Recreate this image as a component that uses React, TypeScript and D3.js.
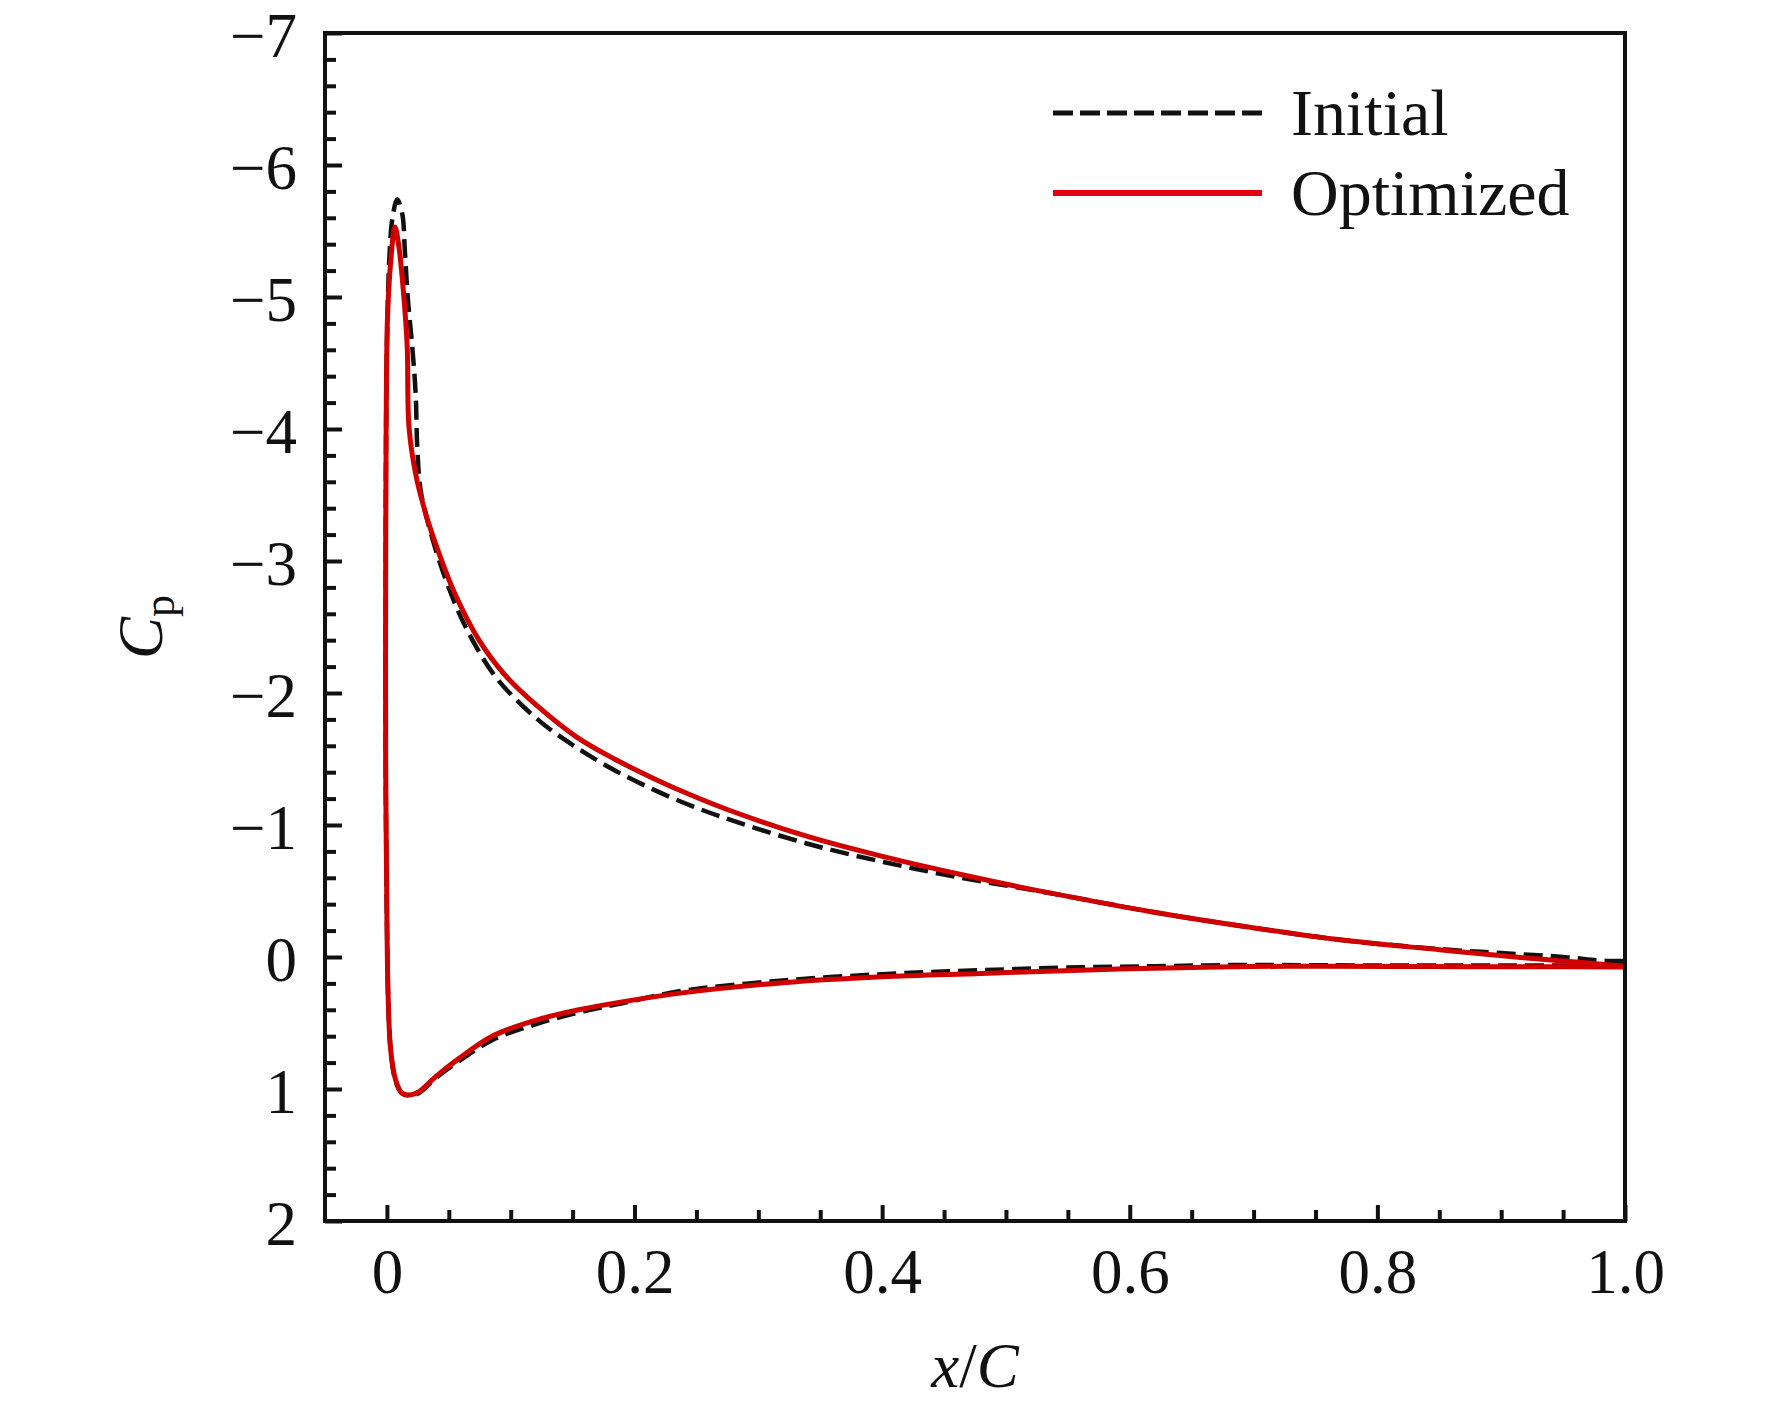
import { useEffect, useRef } from "react";
import * as d3 from "d3";

// ---- data (x/C, Cp) ----
// each surface listed in drawing order: lower TE -> LE, nose, upper LE -> TE
const initialLower: [number, number][] = [
  [1.0, 0.065], [0.9, 0.065], [0.76, 0.063], [0.697, 0.06], [0.62, 0.07], [0.56, 0.078],
  [0.48, 0.1], [0.4, 0.13], [0.317, 0.18], [0.236, 0.26], [0.19, 0.35], [0.155, 0.42],
  [0.12, 0.51], [0.085, 0.63], [0.058, 0.79], [0.039, 0.92], [0.026, 1.03], [0.018, 1.05],
  [0.012, 1.03], [0.007, 0.94], [0.003, 0.7], [0.001, 0.3],
];
const initialNose: [number, number][] = [
  [0.0, -0.3], [-0.001, -1.5], [-0.001, -3.0], [-0.0005, -4.2], [0.0005, -4.85],
  [0.002, -5.3], [0.0045, -5.6],
];
const initialUpper: [number, number][] = [
  [0.0083, -5.74], [0.0124, -5.63], [0.0145, -5.35], [0.0168, -5.0], [0.0205, -4.62],
  [0.0232, -4.27], [0.0245, -3.87], [0.0272, -3.54], [0.034, -3.26], [0.0475, -2.86],
  [0.0636, -2.5], [0.088, -2.12], [0.1217, -1.8], [0.1527, -1.59], [0.1838, -1.415],
  [0.2149, -1.27], [0.246, -1.145], [0.277, -1.04], [0.339, -0.86], [0.401, -0.72],
  [0.4636, -0.6], [0.526, -0.5], [0.578, -0.41], [0.616, -0.345], [0.697, -0.225],
  [0.77, -0.13], [0.85, -0.06], [0.9, -0.03], [0.95, 0.0], [0.985, 0.03], [1.0, 0.03],
];

const optimizedLower: [number, number][] = [
  [1.0, 0.075], [0.92, 0.074], [0.84, 0.072], [0.76, 0.07], [0.697, 0.072], [0.62, 0.085],
  [0.56, 0.1], [0.48, 0.125], [0.4, 0.15], [0.32, 0.195], [0.24, 0.27], [0.19, 0.34],
  [0.155, 0.4], [0.12, 0.48], [0.085, 0.6], [0.058, 0.77], [0.039, 0.91], [0.026, 1.02],
  [0.018, 1.045], [0.012, 1.03], [0.007, 0.93], [0.003, 0.7], [0.001, 0.3],
];
const optimizedNose: [number, number][] = [
  [0.0, -0.3], [-0.001, -1.5], [-0.001, -3.0], [-0.0005, -4.2], [0.0005, -4.85],
  [0.003, -5.26],
];
const optimizedUpper: [number, number][] = [
  [0.0065, -5.53], [0.0097, -5.38], [0.0137, -5.0], [0.0164, -4.62], [0.0178, -4.02],
  [0.0232, -3.66], [0.0313, -3.36], [0.042, -3.06], [0.0555, -2.74], [0.0744, -2.4],
  [0.095, -2.14], [0.1217, -1.9], [0.1527, -1.67], [0.1838, -1.5], [0.2149, -1.355],
  [0.246, -1.225], [0.277, -1.11], [0.339, -0.915], [0.401, -0.76], [0.4636, -0.625],
  [0.53, -0.495], [0.578, -0.41], [0.616, -0.345], [0.697, -0.225], [0.77, -0.13],
  [0.85, -0.055], [0.923, 0.01], [0.97, 0.045], [1.0, 0.07],
];

const X_TICKS = [0, 0.2, 0.4, 0.6, 0.8, 1.0];
const X_LABELS = ["0", "0.2", "0.4", "0.6", "0.8", "1.0"];
const Y_TICKS = [-7, -6, -5, -4, -3, -2, -1, 0, 1, 2];
const Y_LABELS = ["\u22127", "\u22126", "\u22125", "\u22124", "\u22123", "\u22122", "\u22121", "0", "1", "2"];

const SERIES = [
  { name: "Initial", parts: [initialLower, initialNose, initialUpper], color: "#111111", dash: "19,8", width: 4.5 },
  { name: "Optimized", parts: [optimizedLower, optimizedNose, optimizedUpper], color: "#d00000", dash: null, width: 5 },
];

const W = 1772;
const H = 1408;
const margin = { top: 33, right: 147, bottom: 187, left: 325 };
const FONT = "'Liberation Serif', 'Times New Roman', serif";
const FS = 63;

export default function App() {
  const svgRef = useRef<SVGSVGElement>(null);

  useEffect(() => {
    if (!svgRef.current) return;
    const svg = d3.select(svgRef.current);
    svg.selectAll("*").remove();

    const innerW = W - margin.left - margin.right;
    const innerH = H - margin.top - margin.bottom;

    const x = d3.scaleLinear().domain([-0.05, 1.0]).range([0, innerW]);
    const y = d3.scaleLinear().domain([-7, 2]).range([0, innerH]);

    const g = svg.append("g").attr("transform", `translate(${margin.left},${margin.top})`);

    // minor ticks
    const xMinor = d3.range(0.05, 1.0, 0.05).filter((v) => Math.abs(v * 5 - Math.round(v * 5)) > 1e-6);
    const yMinor = d3.range(-6.8, 2, 0.2).filter((v) => Math.abs(v - Math.round(v)) > 1e-6);

    g.append("g")
      .attr("transform", `translate(0,${innerH})`)
      .call(d3.axisBottom(x).tickValues(xMinor).tickSize(-11).tickFormat(() => ""))
      .call((a) => a.select(".domain").remove())
      .call((a) => a.selectAll("line").attr("stroke", "#111").attr("stroke-width", 4));

    g.append("g")
      .call(d3.axisLeft(y).tickValues(yMinor).tickSize(-11).tickFormat(() => ""))
      .call((a) => a.select(".domain").remove())
      .call((a) => a.selectAll("line").attr("stroke", "#111").attr("stroke-width", 4));

    // major ticks + labels
    g.append("g")
      .attr("transform", `translate(0,${innerH})`)
      .call(
        d3.axisBottom(x)
          .tickValues(X_TICKS)
          .tickSize(-16)
          .tickPadding(27)
          .tickFormat((_, i) => X_LABELS[i])
      )
      .call((a) => a.select(".domain").remove())
      .call((a) => a.selectAll("line").attr("stroke", "#111").attr("stroke-width", 4))
      .call((a) =>
        a.selectAll("text").attr("fill", "#111").attr("font-size", FS).attr("font-family", FONT)
      );

    g.append("g")
      .call(
        d3.axisLeft(y)
          .tickValues(Y_TICKS)
          .tickSize(-17)
          .tickPadding(28)
          .tickFormat((_, i) => Y_LABELS[i])
      )
      .call((a) => a.select(".domain").remove())
      .call((a) => a.selectAll("line").attr("stroke", "#111").attr("stroke-width", 4))
      .call((a) =>
        a.selectAll("text")
          .attr("dy", "0.37em")
          .attr("fill", "#111")
          .attr("font-size", FS)
          .attr("font-family", FONT)
      );

    // curves
    const line = d3
      .line<[number, number]>()
      .x((d) => x(d[0]))
      .y((d) => y(d[1]))
      .curve(d3.curveCatmullRom.alpha(0.5));

    SERIES.forEach((s) => {
      const pts = ([] as [number, number][]).concat(...s.parts);
      const p = g.append("path")
        .datum(pts)
        .attr("d", line)
        .attr("fill", "none")
        .attr("stroke", s.color)
        .attr("stroke-width", s.width)
        .attr("stroke-linejoin", "round");
      if (s.dash) p.attr("stroke-dasharray", s.dash);
    });

    // frame
    g.append("rect")
      .attr("x", 0)
      .attr("y", 0)
      .attr("width", innerW)
      .attr("height", innerH)
      .attr("fill", "none")
      .attr("stroke", "#111")
      .attr("stroke-width", 4);

    // legend
    const legend = svg.append("g").attr("transform", "translate(1053,113)");
    SERIES.forEach((s, i) => {
      const row = legend.append("g").attr("transform", `translate(0,${i * 80})`);
      const l = row.append("line")
        .attr("x1", 0)
        .attr("x2", 209)
        .attr("y1", 0)
        .attr("y2", 0)
        .attr("stroke", i === 1 ? "#e30010" : s.color)
        .attr("stroke-width", i === 1 ? 6 : 5);
      if (s.dash) l.attr("stroke-dasharray", "20,7");
      row.append("text")
        .attr("x", 238)
        .attr("y", 22)
        .attr("font-size", 66)
        .attr("font-family", FONT)
        .attr("fill", "#111")
        .text(s.name);
    });

    // axis titles
    const xt = svg.append("text")
      .attr("x", margin.left + innerW / 2)
      .attr("y", 1387)
      .attr("text-anchor", "middle")
      .attr("font-size", FS)
      .attr("font-family", FONT)
      .attr("fill", "#111");
    xt.append("tspan").attr("font-style", "italic").text("x");
    xt.append("tspan").text("/");
    xt.append("tspan").attr("font-style", "italic").text("C");

    const yt = svg.append("text")
      .attr("transform", `translate(162,${margin.top + innerH / 2}) rotate(-90)`)
      .attr("text-anchor", "middle")
      .attr("font-size", FS)
      .attr("font-family", FONT)
      .attr("fill", "#111");
    yt.append("tspan").attr("font-style", "italic").text("C");
    yt.append("tspan").attr("font-size", 44).attr("dy", 12).text("p");
  }, []);

  return (
    <>
      <style>{`body{margin:0;background:#fff}`}</style>
      <svg ref={svgRef} width={W} height={H} style={{ display: "block", background: "#fff" }} />
    </>
  );
}
